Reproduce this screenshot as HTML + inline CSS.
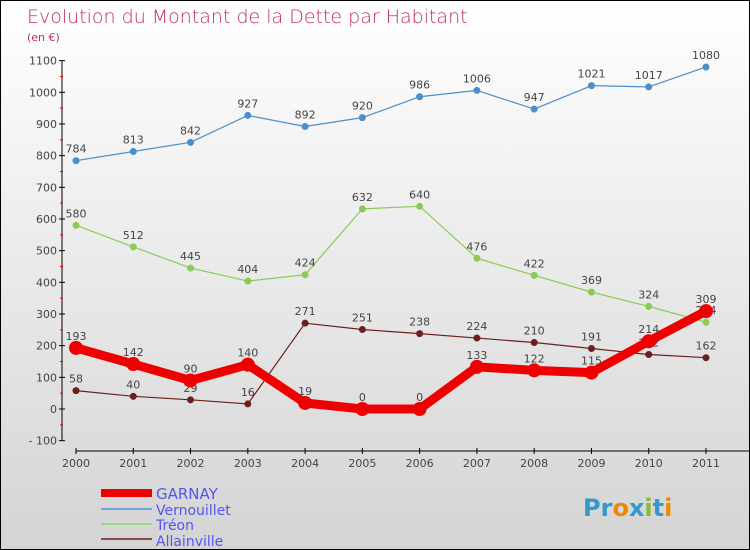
<!DOCTYPE html>
<html><head><meta charset="utf-8"><style>
body{margin:0}
#c{width:748px;height:548px;border:1px solid #000;background:linear-gradient(#fff,#d4d4d4);position:relative;overflow:hidden;font-family:"DejaVu Sans","Liberation Sans",sans-serif}
</style></head><body>
<div id="c">
<svg id="s" width="748" height="548" style="position:absolute;left:0;top:0">
<text x="26" y="22" font-size="19" fill="#c0305a" font-weight="200">Evolution du Montant de la Dette par Habitant</text>
<text x="26" y="40" font-size="11" fill="#c0305a">(en €)</text>
<g id="ax"></g><g id="series"></g>
<g font-size="14" fill="#5555ee">
<rect x="100" y="488" width="51" height="8" fill="#e00"/>
<text x="155" y="498" font-size="15">GARNAY</text>
<line x1="100" y1="508" x2="151" y2="508" stroke="#6fa6d6" stroke-width="2"/>
<text x="155" y="514">Vernouillet</text>
<line x1="100" y1="523" x2="151" y2="523" stroke="#99dd77" stroke-width="2"/>
<text x="155" y="529">Tréon</text>
<line x1="100" y1="538" x2="151" y2="538" stroke="#8b4a4a" stroke-width="2"/>
<text x="155" y="545">Allainville</text>
</g>
<text x="582" y="515" font-size="24" font-weight="bold" fill="#3399cc">Pr<tspan fill="#ee8800">o</tspan>x<tspan fill="#88bb33">i</tspan>t<tspan fill="#ee8800">i</tspan></text>
</svg>
</div>
<script>
const years=[2000,2001,2002,2003,2004,2005,2006,2007,2008,2009,2010,2011];
const garnay=[193,142,90,140,19,0,0,133,122,115,214,309];
const vernouillet=[784,813,842,927,892,920,986,1006,947,1021,1017,1080];
const treon=[580,512,445,404,424,632,640,476,422,369,324,274];
const allainville=[58,40,29,16,271,251,238,224,210,191,172,162];
const yTicks=[-100,0,100,200,300,400,500,600,700,800,900,1000,1100];
const NS="http://www.w3.org/2000/svg";
const X=i=>75+i*(630/11);
const Y=v=>408-v*0.3167;
function mk(t,a,p){const e=document.createElementNS(NS,t);for(const k in a)e.setAttribute(k,a[k]);p.appendChild(e);return e;}
const ax=document.getElementById('ax'),sg=document.getElementById('series');
let l=mk('line',{x1:61,y1:Y(1100),x2:61,y2:Y(-100),stroke:'#000'},ax);


yTicks.forEach(v=>{
 mk('line',{x1:58,y1:Y(v),x2:64,y2:Y(v),stroke:'#000'},ax);
 if(v<1100)mk('line',{x1:59,y1:Y(v+50),x2:62,y2:Y(v+50),stroke:'#e00'},ax);
 const t=mk('text',{x:56,y:Y(v)+4,'text-anchor':'end','font-size':11,fill:'#444'},ax);t.textContent=v<0?'- '+(-v):v;
 
 
});
l=mk('line',{x1:75,y1:450,x2:748,y2:450,stroke:'#000'},ax);


years.forEach((y,i)=>{
 mk('line',{x1:X(i),y1:447,x2:X(i),y2:453,stroke:'#000'},ax);
 const t=mk('text',{x:X(i),y:466,'text-anchor':'middle','font-size':11,fill:'#444'},ax);t.textContent=y;
 
 
});
function series(d,color,w,r,name){
 const g=mk('g',{},sg);
 
 
 const p=mk('polyline',{points:d.map((v,i)=>X(i)+','+Y(v)).join(' '),fill:'none',stroke:color,'stroke-width':w,'stroke-linejoin':'round'},g);
 
 
 d.forEach((v,i)=>{
  const c=mk('circle',{cx:X(i),cy:Y(v),r:r,fill:color},g);
  
  
  const t=mk('text',{x:X(i),y:Y(v)-8,'text-anchor':'middle','font-size':11,fill:'#444'},g);t.textContent=v;
  
  
 });
}
series(vernouillet,'#4a8fc9',1.2,3.5,'vernouillet');
series(treon,'#88cc55',1.2,3.5,'treon');
series(allainville,'#6b1f1f',1.2,3.5,'allainville');
series(garnay,'#ee0000',9,7,'garnay');
</script>
</body></html>
